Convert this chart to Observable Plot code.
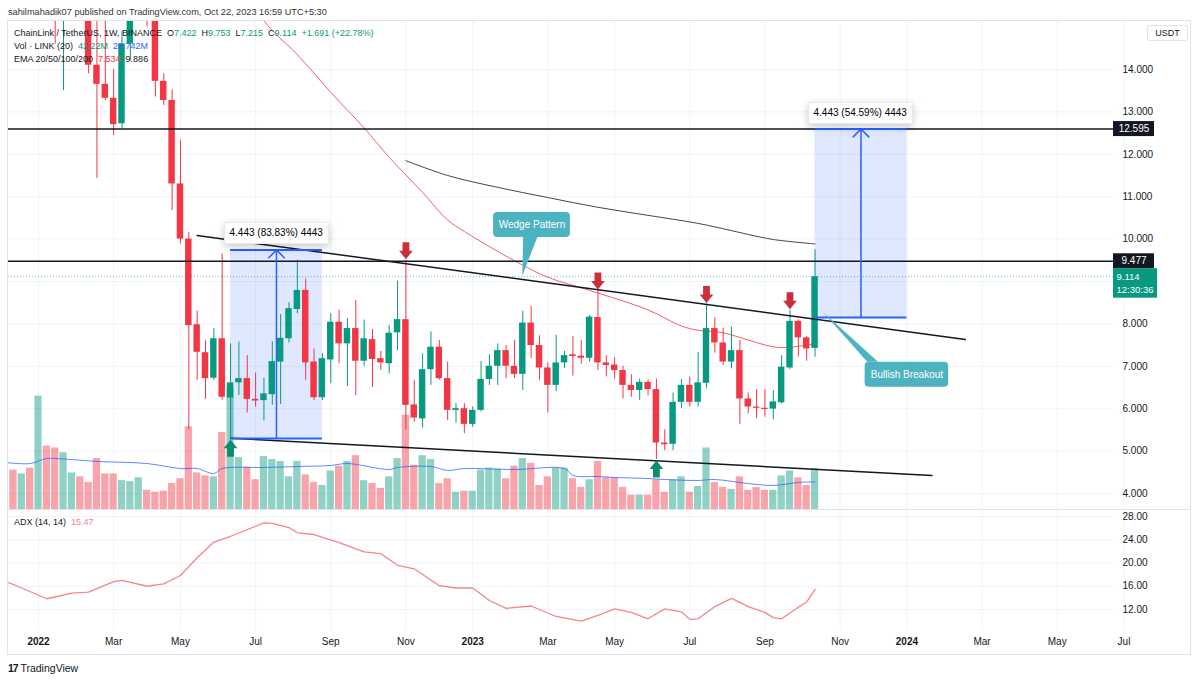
<!DOCTYPE html>
<html><head><meta charset="utf-8">
<script src="https://cdn.jsdelivr.net/npm/d3@7"></script>
<script src="https://cdn.jsdelivr.net/npm/@observablehq/plot@0.6"></script>
<style>
body{margin:0;background:#fff;font-family:"Liberation Sans",Arial,sans-serif;}
#root{position:relative;width:1200px;height:681px;overflow:hidden;background:#fff}
.layer{position:absolute;left:0;top:0;width:1200px}
.layer svg{display:block;overflow:visible;max-width:none}
.txt{position:absolute;white-space:nowrap;font-size:9px;line-height:12px;color:#131722}
.t{color:#089981}.b{color:#2962ff}.r{color:#f23645}.p{color:#f7848a}
</style></head>
<body><div id="root">
<div class="txt" style="left:8px;top:6px;font-size:9.2px;color:#333">sahilmahadik07 published on TradingView.com, Oct 22, 2023 16:59 UTC+5:30</div>
<div style="position:absolute;left:7px;top:20px;width:1184px;height:635px;border:1px solid #e0e3eb;box-sizing:border-box"></div>
<div id="gridL" class="layer"></div>
<div id="volL" class="layer"></div>
<div id="mainL" class="layer"></div>
<div id="axisL" class="layer" style="left:1113px;width:87px"></div>
<div id="adxL" class="layer" style="top:509px"></div>
<div style="position:absolute;left:8px;top:509px;width:1183px;height:1px;background:#e0e3eb"></div>
<div style="position:absolute;left:1147px;top:25px;width:41px;height:16px;border:1px solid #e0e3eb;border-radius:3px;box-sizing:border-box;font-size:9px;line-height:14px;text-align:center;color:#131722;background:#fff">USDT</div>
<div class="txt" style="left:14px;top:27px">ChainLink / TetherUS, 1W, BINANCE&nbsp; O<span class="t">7.422</span>&nbsp; H<span class="t">9.753</span>&nbsp; L<span class="t">7.215</span>&nbsp; C<span class="t">9.114</span>&nbsp; <span class="t">+1.691 (+22.78%)</span></div>
<div class="txt" style="left:14px;top:40px">Vol · LINK (20)&nbsp; <span class="t">42.22M</span>&nbsp; <span class="b">28.742M</span></div>
<div class="txt" style="left:14px;top:53px">EMA 20/50/100/200&nbsp; <span class="r">7.534</span>&nbsp; 9.886</div>
<div class="txt" style="left:14px;top:516px">ADX (14, 14)&nbsp; <span class="p">15.47</span></div>
<div class="txt" style="left:8px;top:662px;font-size:10.5px;color:#131722"><b style="letter-spacing:-1px">17</b> TradingView</div>
</div>
<script>
// ---------------- data ----------------
const firstWeek = "2021-12-13"; // weekly bars (Monday open)
const open  = [19.9,19.0,21.7,19.9,24.4,22.0,15.6,16.6,18.0,16.9,14.1,13.65,13.32,12.72,14.6,17.1,17.4,15.4,13.72,13.27,11.30,10.0,7.98,7.32,6.72,7.65,6.25,6.61,6.71,6.22,6.19,6.33,7.10,7.65,8.34,8.79,7.10,6.26,7.15,8.04,7.53,7.89,7.12,7.63,7.18,7.06,7.79,8.10,6.09,5.76,6.92,7.45,6.71,5.96,6.0,5.63,5.96,6.69,7.0,7.37,7.0,6.81,8.02,7.49,6.96,6.55,7.08,7.27,7.24,7.19,8.15,7.08,7.03,6.90,6.55,6.43,6.62,6.45,5.19,5.16,6.15,6.55,6.15,6.60,7.89,7.55,7.10,7.37,6.23,6.04,6.01,5.99,6.14,6.96,8.06,7.67,7.422];
const high  = [20.6,22.5,22.9,25.0,28.0,24.0,17.0,19.1,20.0,18.4,15.4,15.6,14.0,14.9,17.3,18.5,17.8,15.9,13.9,13.52,12.33,10.16,8.3,7.6,7.89,9.65,7.53,7.57,7.25,6.84,6.72,7.58,8.22,8.5,9.5,9.06,7.41,7.30,8.24,8.32,8.12,8.55,8.09,7.87,7.35,7.96,9.01,9.5,6.67,7.29,7.81,7.61,7.1,6.12,6.12,6.04,7.11,7.27,7.53,7.49,7.61,8.30,8.41,7.72,7.08,7.73,7.35,7.70,7.61,8.2,8.79,7.25,7.2,7.0,6.8,6.7,6.68,6.7,5.50,6.37,6.69,6.75,7.33,8.47,8.14,7.9,7.92,7.61,6.37,6.45,6.45,6.43,7.25,8.32,8.10,7.70,9.753];
const low   = [17.0,18.6,19.3,19.4,21.0,14.6,13.5,15.9,16.3,13.9,11.43,13.27,12.44,12.6,14.2,16.4,15.0,13.35,13.15,10.67,9.89,5.5,6.67,6.22,6.67,6.2,5.29,6.31,5.9,6.04,5.71,6.08,6.1,7.55,8.24,6.67,6.19,6.19,6.59,7.06,6.52,6.31,7.0,6.5,6.9,6.82,7.37,5.5,5.68,5.54,6.55,6.67,5.72,5.66,5.41,5.56,5.92,6.55,6.55,6.71,6.71,6.43,7.18,6.67,5.90,6.4,6.95,6.77,7.05,7.1,6.9,6.75,6.7,6.23,6.27,6.19,6.3,4.8,5.01,5.01,6.0,6.04,6.04,6.47,7.31,7.02,6.94,5.63,5.88,5.76,5.80,5.74,6.11,6.92,7.22,7.12,7.215];
const close = [19.0,21.7,19.9,24.4,22.0,15.6,16.6,18.0,16.9,14.1,13.65,13.32,12.70,14.6,17.1,17.4,15.4,13.72,13.27,11.30,10.0,7.96,7.33,6.71,7.65,6.27,6.61,6.71,6.22,6.18,6.35,7.11,7.66,8.36,8.79,7.08,6.26,7.18,8.04,7.53,7.89,7.12,7.65,7.16,7.08,7.78,8.10,6.08,5.78,6.92,7.45,6.71,5.96,6.0,5.63,5.96,6.69,7.0,7.37,7.0,6.81,8.02,7.49,6.96,6.55,7.08,7.25,7.23,7.19,8.16,7.08,7.02,6.90,6.55,6.43,6.62,6.45,5.19,5.15,6.15,6.55,6.15,6.61,7.89,7.55,7.10,7.37,6.23,6.04,6.01,5.98,6.16,6.98,8.06,7.67,7.41,9.114];
const volume= [41,37,43,118,66,64,59,38,34,28,53,37,37,30,29,33,20,18,19,27,32,86,38,35,34,80,126,54,44,31,55,52,50,34,50,36,28,25,40,45,50,56,30,27,22,34,53,98,46,56,52,27,32,18,19,19,41,43,42,32,45,53,48,25,34,43,43,32,23,31,50,33,33,23,15,15,15,31,18,31,34,18,24,64,28,23,21,34,20,23,20,20,35,40,33,25,42.22];

const volMaWeek = [-1,2,4,6,10,16,20,22,24,25,30,34,38,40,45,46,50,52,54,60,66,67,70,72,76,78,82,84,88,91,94,96];
const volMaVal  = [48.9,47.8,53,52.5,50,47.8,42.6,42.6,37.4,42.6,43.7,44.7,45.8,47.8,41.6,43.7,44.7,40.6,42.6,41.6,42.6,35.4,34.3,33.3,32.2,31.2,30.2,31.2,27,25,28.1,28.742];
const ema50Week = [27,29,31,34,38,42,45,49,52,54,60,64,69,76,80,82,85,87,91,93,96];
const ema50Val  = [15.8,15.39,14.92,14.35,13.46,12.62,11.93,11.1,10.45,10.18,9.49,9.1,8.79,8.33,7.95,7.85,7.79,7.68,7.46,7.45,7.534];
const ema200Week = [47,52,58,64,70,76,82,86,88,91,96];
const ema200Val  = [11.85,11.5,11.22,10.98,10.75,10.56,10.37,10.2,10.11,9.99,9.886];
const adxWeek = [-1,0,4,7,9,12,13,16,18,20,22,24,26,30,31,33,34,36,39,42,44,46,48,51,53,55,57,59,62,65,68,70,72,74,76,78,80,81,82,84,86,88,90,91,92,94,95,96];
const adxVal  = [16.8,16.3,13.85,14.8,15.0,16.8,17.0,16.0,16.4,17.85,20.9,23.6,24.6,26.9,26.8,26.1,25.2,24.9,23.5,21.9,21.6,19.6,19.0,16.1,15.7,15.7,13.55,12.2,12.6,10.8,10.0,11.0,12.1,11.5,10.4,12.1,11.6,10.3,10.4,12.5,13.9,12.5,11.5,10.6,10.4,12.4,13.3,15.47];

const priceTicks = [4,5,6,7,8,9,10,11,12,13,14];
const adxTicks = [12,16,20,24,28];
const timeTicks = ["2022-01-03","2022-03-07","2022-05-02","2022-07-04","2022-09-05","2022-11-07","2023-01-02","2023-03-06","2023-05-01","2023-07-03","2023-09-04","2023-11-06","2024-01-01","2024-03-04","2024-05-06","2024-07-01"];
const timeLabels = ["2022","Mar","May","Jul","Sep","Nov","2023","Mar","May","Jul","Sep","Nov","2024","Mar","May","Jul"];
const levels = [12.595, 9.477];
const lastPrice = 9.114, countdown = "12:30:36";
const wedgeUpperWeek = [22, 114], wedgeUpperVal = [10.085, 7.632];
const wedgeLowerWeek = [26, 110], wedgeLowerVal = [5.304, 4.425];
const rangeW1 = [26, 96], rangeW2 = [37, 107], rangeLo = [5.300, 8.152], rangeHi = [9.743, 12.595];
const rangeLabel = ["4.443 (83.83%) 4443", "4.443 (54.59%) 4443"];
const topArrowBars = [47, 70, 83, 93];
const bottomArrowBars = [26, 77];
const calloutText = ["Wedge Pattern", "Bullish Breakout"];
const calloutW1 = [57.5, 102.0], calloutW2 = [66.7, 112.0], calloutP1 = [10.04, 6.507], calloutP2 = [10.63, 7.097];
const calloutTipW = [61.0, 96.97], calloutTipP = [9.118, 8.276];
const calloutBaseW1 = [61.1, 102.3], calloutBaseW2 = [62.8, 103.6], calloutBaseP = [10.04, 7.097];

// ---------------- helpers ----------------
const DAY = 864e5;
const T0 = +new Date(firstWeek + "T00:00:00Z");
const wk = i => new Date(T0 + i * 7 * DAY);
const shift = (d, n) => new Date(+d + n * DAY);
const UP = "#089981", DN = "#f23645";
const bars = open.map((o, i) => ({date: wk(i), o, h: high[i], l: low[i], c: close[i], v: volume[i], col: close[i] >= o ? UP : DN}));
const series = (w, v) => w.map((d, i) => ({date: wk(d), v: v[i]}));
const ranges = rangeW1.map((w, i) => ({x1: wk(w), x2: wk(rangeW2[i]), mid: wk((w + rangeW2[i]) / 2), lo: rangeLo[i], hi: rangeHi[i], label: rangeLabel[i]}));
const callouts = calloutText.map((t, i) => ({text: t, x1: wk(calloutW1[i]), x2: wk(calloutW2[i]), p1: calloutP1[i], p2: calloutP2[i],
  cx: wk((calloutW1[i] + calloutW2[i]) / 2), cy: (calloutP1[i] + calloutP2[i]) / 2,
  tri: [{y: calloutBaseP[i], x1: wk(calloutBaseW1[i]), x2: wk(calloutBaseW2[i])}, {y: calloutTipP[i], x1: wk(calloutTipW[i]), x2: wk(calloutTipW[i])}]}));

const xS = {type: "utc", domain: [wk(3), wk(107)], range: [38, 38 + 104 * 8.35], axis: null};
const yP = {domain: [4, 14], range: [493, 69], axis: null};
const ppu = (493 - 69) / 10;
const STY = {background: "transparent", overflow: "visible", fontFamily: "Liberation Sans, Arial, sans-serif", fontSize: "10px"};
const base = {width: 1200, height: 509, marginTop: 21, marginBottom: 0, marginLeft: 8, marginRight: 87, style: STY, color: {type: "identity"}};
const tickDates = timeTicks.map(d => new Date(d + "T00:00:00Z"));
const GRID = "#f0f3fa";

// price-axis boxes (pixel extents) and the ticks they hide
const lastBoxTop = 8, lastBoxBottom = 21.5, levelHalf = 7.5;
const visibleTicks = priceTicks.filter(t =>
  !((t - lastPrice) * ppu < lastBoxTop + 6 && (lastPrice - t) * ppu < lastBoxBottom + 6) &&
  levels.every(l => Math.abs(t - l) * ppu > levelHalf + 6));

const downArrow = {draw(ctx, size) { const s = Math.sqrt(size / Math.PI) / 7;
  ctx.moveTo(0, 0); ctx.lineTo(-6.8*s, -8.5*s); ctx.lineTo(-3.4*s, -8.5*s); ctx.lineTo(-3.4*s, -17*s);
  ctx.lineTo(3.4*s, -17*s); ctx.lineTo(3.4*s, -8.5*s); ctx.lineTo(6.8*s, -8.5*s); ctx.closePath(); }};
const upArrow = {draw(ctx, size) { const s = Math.sqrt(size / Math.PI) / 7;
  ctx.moveTo(0, 0); ctx.lineTo(-6.8*s, 8.5*s); ctx.lineTo(-3.4*s, 8.5*s); ctx.lineTo(-3.4*s, 17*s);
  ctx.lineTo(3.4*s, 17*s); ctx.lineTo(3.4*s, 8.5*s); ctx.lineTo(6.8*s, 8.5*s); ctx.closePath(); }};

// grid layer
document.getElementById("gridL").append(Plot.plot({...base, x: xS, y: yP, marks: [
  Plot.ruleY(priceTicks, {y: d => d, stroke: GRID}),
  Plot.ruleX(tickDates, {x: d => d, stroke: GRID})
]}));

// volume layer
document.getElementById("volL").append(Plot.plot({...base, x: xS, y: {domain: [0, 100], range: [509, 509 - 100 / 1.04], axis: null}, marks: [
  Plot.rect(bars, {x1: d => shift(d.date, -3.05), x2: d => shift(d.date, 3.05), y1: 0, y2: "v", fill: "col", fillOpacity: 0.45, clip: true}),
  Plot.line(series(volMaWeek, volMaVal), {x: "date", y: "v", stroke: "#2962ff", strokeOpacity: 0.75, strokeWidth: 1, curve: "catmull-rom", clip: true})
]}));

// main layer
const tipMark = Plot.tip
  ? Plot.tip(ranges, {x: "mid", y: "hi", title: "label", anchor: "bottom", pointerSize: 0, dy: -6, fontSize: 10, textPadding: 5, fill: "white", stroke: "#e8e8e8"})
  : Plot.text(ranges, {x: "mid", y: "hi", text: "label", dy: -14, fontSize: 10, fill: "#131722"});
document.getElementById("mainL").append(Plot.plot({...base, x: xS, y: yP, marks: [
  Plot.rect(ranges, {x1: "x1", x2: "x2", y1: "lo", y2: "hi", fill: "#2962ff", fillOpacity: 0.15}),
  Plot.line(series(ema200Week, ema200Val), {x: "date", y: "v", stroke: "#434651", strokeWidth: 1, curve: "catmull-rom", clip: true}),
  Plot.line(series(ema50Week, ema50Val), {x: "date", y: "v", stroke: "#f23645", strokeOpacity: 0.8, strokeWidth: 1, curve: "catmull-rom", clip: true}),
  Plot.ruleY([lastPrice], {y: d => d, stroke: UP, strokeOpacity: 0.6, strokeDasharray: "1,2"}),
  Plot.ruleX(bars, {x: "date", y1: "l", y2: "h", stroke: "col", strokeWidth: 1, clip: true}),
  Plot.rect(bars, {x1: d => shift(d.date, -2.7), x2: d => shift(d.date, 2.7), y1: "o", y2: "c", fill: "col", clip: true}),
  Plot.ruleY(levels, {y: d => d, stroke: "#131722", strokeWidth: 1.5}),
  Plot.line(series(wedgeUpperWeek, wedgeUpperVal), {x: "date", y: "v", stroke: "#131722", strokeWidth: 1.5}),
  Plot.line(series(wedgeLowerWeek, wedgeLowerVal), {x: "date", y: "v", stroke: "#131722", strokeWidth: 1.5}),
  Plot.ruleY(ranges, {y: "lo", x1: "x1", x2: "x2", stroke: "#2962ff", strokeWidth: 2}),
  Plot.ruleY(ranges, {y: "hi", x1: "x1", x2: "x2", stroke: "#2962ff", strokeWidth: 2}),
  Plot.arrow(ranges, {x: "mid", y1: "lo", y2: "hi", stroke: "#2962ff", strokeWidth: 1.5, headAngle: 90, headLength: 11}),
  tipMark,
  Plot.dot(topArrowBars.map(i => bars[i]), {x: "date", y: "h", symbol: downArrow, r: 7, fill: "#c9303c", stroke: "none", dy: -1}),
  Plot.dot(bottomArrowBars.map(i => bars[i]), {x: "date", y: "l", symbol: upArrow, r: 7, fill: "#0b8c6c", stroke: "none", dy: 1}),
  ...callouts.map(c => Plot.areaX(c.tri, {y: "y", x1: "x1", x2: "x2", fill: "#4db3c0"})),
  Plot.rect(callouts, {x1: "x1", x2: "x2", y1: "p1", y2: "p2", fill: "#4db3c0", rx: 4}),
  Plot.text(callouts, {x: "cx", y: "cy", text: "text", fill: "white", fontSize: 10})
]}));

// price axis column
document.getElementById("axisL").append(Plot.plot({width: 87, height: 509, margin: 0, style: STY,
  x: {domain: [0, 87], range: [0, 87], axis: null}, y: yP, marks: [
  Plot.text(visibleTicks, {x: 9, y: d => d, text: d => d.toFixed(3), textAnchor: "start", fill: "#131722", fontSize: 10}),
  Plot.rect(levels, {x1: 0, x2: 41, y1: d => d - levelHalf / ppu, y2: d => d + levelHalf / ppu, fill: "#131722"}),
  Plot.text(levels, {x: 20.5, y: d => d, text: d => d.toFixed(3), fill: "white", fontSize: 10}),
  Plot.rect([lastPrice], {x1: 0, x2: 44, y1: d => d - lastBoxBottom / ppu, y2: d => d + lastBoxTop / ppu, fill: UP}),
  Plot.text([lastPrice], {x: 3, y: d => d, text: d => d.toFixed(3), fill: "white", textAnchor: "start", fontSize: 9.5}),
  Plot.text([lastPrice], {x: 3, y: d => d - 13 / ppu, text: () => countdown, fill: "white", textAnchor: "start", fontSize: 9.5})
]}));

// ADX pane + time axis
const xLab = tickDates.map((d, i) => ({date: d, label: timeLabels[i], year: /^\d{4}$/.test(timeLabels[i])}));
document.getElementById("adxL").append(Plot.plot({width: 1200, height: 147, marginTop: 0, marginBottom: 26, marginLeft: 8, marginRight: 87, style: STY,
  x: xS, y: {domain: [12, 28], range: [100, 7], axis: null}, marks: [
  Plot.ruleY(adxTicks, {y: d => d, stroke: GRID}),
  Plot.ruleX(tickDates, {x: d => d, stroke: GRID}),
  Plot.line(series(adxWeek, adxVal), {x: "date", y: "v", stroke: "#f7848a", strokeWidth: 1.3, clip: true}),
  Plot.text(xLab.filter(d => d.year), {x: "date", text: "label", frameAnchor: "bottom", dy: 14, fontWeight: "bold", fill: "#131722", fontSize: 10}),
  Plot.text(xLab.filter(d => !d.year), {x: "date", text: "label", frameAnchor: "bottom", dy: 14, fill: "#131722", fontSize: 10}),
  Plot.text(adxTicks, {y: d => d, text: d => d.toFixed(2), frameAnchor: "right", dx: 9, textAnchor: "start", fill: "#131722", fontSize: 10})
]}));
</script>
</body></html>
